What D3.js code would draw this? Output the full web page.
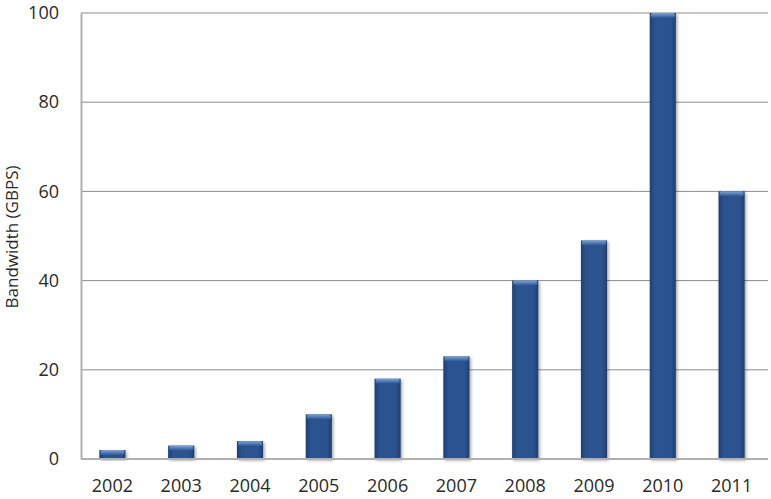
<!DOCTYPE html>
<html><head><meta charset="utf-8">
<script src="https://cdn.jsdelivr.net/npm/d3@7"></script>
<style>body{margin:0;background:#fff}svg{display:block}</style>
</head><body>
<script>
const years = ["2002","2003","2004","2005","2006","2007","2008","2009","2010","2011"];
const bandwidth = [2,3,4,10,18,23,40,49,100,60];
const yTicks = [0,20,40,60,80,100];
const yLabel = "Bandwidth (GBPS)";

const W=771,H=499, m={l:81,r:3,t:13,b:40};
const svg=d3.select("body").append("svg").attr("width",W).attr("height",H);
const x=d3.scaleBand().domain(years).range([78,766]).paddingInner(0.62).paddingOuter(0.31);
const y=d3.scaleLinear().domain([0,100]).range([H-m.b,m.t]);
const defs=svg.append("defs");
const g=defs.append("linearGradient").attr("id","bar").attr("x1",0).attr("x2",1).attr("y1",0).attr("y2",0);
g.append("stop").attr("offset","0").attr("stop-color","#1f3f70");
g.append("stop").attr("offset","0.2").attr("stop-color","#2c5390");
g.append("stop").attr("offset","0.8").attr("stop-color","#2c5390");
g.append("stop").attr("offset","1").attr("stop-color","#1f3f70");
const t=defs.append("linearGradient").attr("id","top").attr("x1",0).attr("x2",0).attr("y1",0).attr("y2",1);
t.append("stop").attr("offset","0").attr("stop-color","#7fa3d6");
t.append("stop").attr("offset","1").attr("stop-color","#2c5390");
const f=defs.append("filter").attr("id","sh").attr("x","-30%").attr("y","-10%").attr("width","160%").attr("height","130%");
f.append("feDropShadow").attr("dx",1.5).attr("dy",1.5).attr("stdDeviation",1.5).attr("flood-color","#000").attr("flood-opacity",0.35);

// gridlines
svg.append("g").selectAll("line").data(yTicks.filter(d=>d>0)).join("line")
 .attr("x1",m.l).attr("x2",W-m.r).attr("y1",d=>y(d)).attr("y2",d=>y(d))
 .attr("stroke","#8c8c8c").attr("stroke-width",1);

// bars
const bars=svg.append("g").selectAll("g").data(years).join("g").attr("filter","url(#sh)");
bars.append("rect").attr("x",d=>x(d)).attr("width",x.bandwidth())
 .attr("y",(d,i)=>y(bandwidth[i])).attr("height",(d,i)=>y(0)-y(bandwidth[i]))
 .attr("fill","url(#bar)");
bars.append("rect").attr("x",d=>x(d)+1).attr("width",x.bandwidth()-2)
 .attr("y",(d,i)=>y(bandwidth[i])).attr("height",(d,i)=>Math.min(5,y(0)-y(bandwidth[i])))
 .attr("fill","url(#top)").attr("rx",2);

// axes
const ya=svg.append("g").attr("transform",`translate(${m.l},0)`)
 .call(d3.axisLeft(y).tickValues(yTicks).tickSize(0).tickPadding(22));
ya.select(".domain").attr("stroke","#b0b0b0").attr("stroke-width",2);
ya.selectAll("text").attr("font-family","'Open Sans',sans-serif").attr("font-size",18).attr("fill","#2a2a2a");
const xa=svg.append("g").attr("transform",`translate(0,${y(0)})`)
 .call(d3.axisBottom(x).tickSize(0).tickPadding(20));
xa.select(".domain").attr("stroke","#b0b0b0").attr("stroke-width",2).attr("d",`M${m.l},0H${W-m.r}`);
xa.selectAll("text").attr("font-family","'Open Sans',sans-serif").attr("font-size",18).attr("fill","#2a2a2a");

svg.append("text").attr("transform",`translate(18,237) rotate(-90)`)
 .attr("text-anchor","middle").attr("font-family","'Open Sans',sans-serif").attr("font-size",17).attr("fill","#2a2a2a").text(yLabel);
</script>
</body></html>
